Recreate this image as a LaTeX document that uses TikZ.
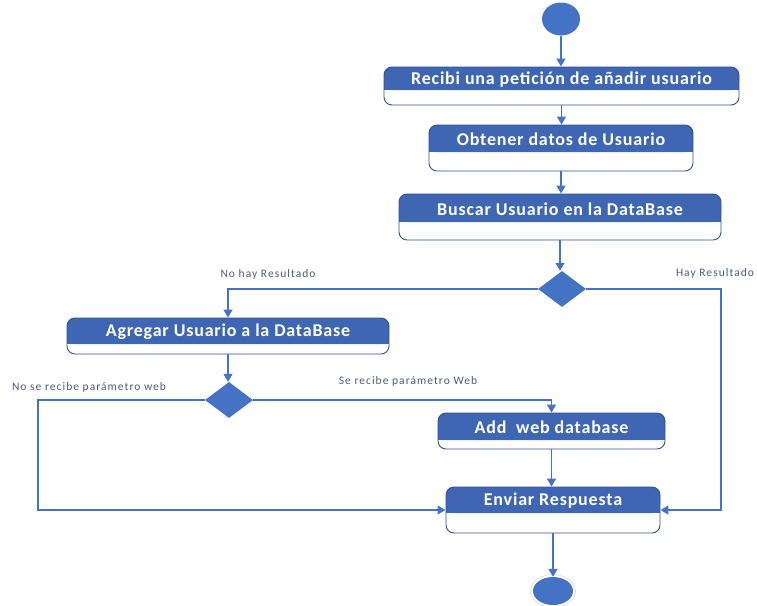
\documentclass[tikz,border=0pt]{standalone}
\usepackage{fontspec}
\setmainfont{Carlito}
\newfontfamily\headfont[LetterSpace=4.5]{Carlito}
\newfontfamily\guardfont[LetterSpace=9]{Carlito}
\usetikzlibrary{arrows.meta,shapes.geometric}
\definecolor{uml}{HTML}{4472C4}
\definecolor{umlhead}{HTML}{3F66B2}
\definecolor{umlframe}{HTML}{2F528F}
\definecolor{guard}{HTML}{4A5A78}
\tikzset{
  flow/.style={draw=uml, line width=1.3pt, -{Triangle[width=9pt,length=8pt]}},
  actframe/.style={draw=umlframe, line width=0.9pt, rounded corners=8pt, inner sep=0pt},
  hdr/.style={fill=umlhead},
  hdrtext/.style={text=white, font=\headfont\fontsize{18}{20}\selectfont\bfseries, inner sep=0pt},
  guardtext/.style={text=guard, font=\guardfont\fontsize{11.5}{13}\selectfont, inner sep=0pt},
  decision/.style={diamond, fill=uml, inner sep=0pt, minimum width=48pt, minimum height=36pt},
  terminal/.style={ellipse, fill=uml, inner sep=0pt},
}
% activity box: name, left, top, right, bottom, header bottom, text
\newcommand\actbox[7]{%
  \fill[hdr, rounded corners=8pt] (#2,#3) rectangle (#4,#6);
  \fill[hdr] (#2,#6-10) rectangle (#4,#6);
  \node[actframe, minimum width={(#4-#2)*1pt}, minimum height={(#5-#3)*1pt}]
    (#1) at ({(#2+#4)/2},{(#3+#5)/2}) {};
  \node[hdrtext] (#1-t) at ({(#2+#4)/2},{(#3+#6)/2+1}) {#7};
}
\begin{document}
\begin{tikzpicture}[x=1pt,y=-1pt]
\useasboundingbox (0,0) rectangle (757,605);

% start and end points
\node[terminal, minimum width=38pt, minimum height=33pt] (start) at (561,19) {};
\node[ellipse, draw=black!12, line width=0.8pt, minimum width=45pt, minimum height=33pt] (endring) at (553,591) {};
\node[terminal, minimum width=40pt, minimum height=28pt] (end) at (553,591) {};

% activities
\actbox{b1}{384}{67}{739}{105}{90}{Recibi una petición de añadir usuario}
\actbox{b2}{429}{125}{693}{171}{152}{Obtener datos de Usuario}
\actbox{b3}{399}{194}{721}{240}{222}{Buscar Usuario en la DataBase}
\actbox{b4}{67}{318}{389}{354}{344}{Agregar Usuario a la DataBase}
\actbox{b5}{438}{413}{665}{449}{440}{Add\ \ web database}
\actbox{b6}{446}{487}{660}{533}{513}{Enviar Respuesta}

% decisions
\node[decision] (d1) at (562,289) {};
\node[decision] (d2) at (229,400) {};

% guard labels
\node[guardtext] (g1) at (268,274) {No hay Resultado};
\node[guardtext] (g2) at (715,273) {Hay Resultado};
\node[guardtext] (g3) at (89,387) {No se recibe parámetro web};
\node[guardtext] (g4) at (408,381) {Se recibe parámetro Web};

% bend points
\coordinate (rr) at (721,289);
\coordinate (ll) at (38,400);

% connectors
\draw[flow] (start.south) -- (start.south |- b1.north);
\draw[flow] (b1.south) -- (b1.south |- b2.north);
\draw[flow] (b2.south) -- (b2.south |- b3.north);
\draw[flow] (b3.south) -- (b3.south |- d1.north);
\draw[flow] (d1.west) -| (b4.north);
\draw[flow] (d1.east) -- (rr) |- (b6.east);
\draw[flow] (b4.south) -- (b4.south |- d2.north);
\draw[flow] (d2.west) -- (ll) |- (b6.west);
\draw[flow] (d2.east) -| (b5.north);
\draw[flow] (b5.south) -- (b5.south |- b6.north);
\draw[flow] (b6.south) -- (b6.south |- end.north);
\end{tikzpicture}
\end{document}
